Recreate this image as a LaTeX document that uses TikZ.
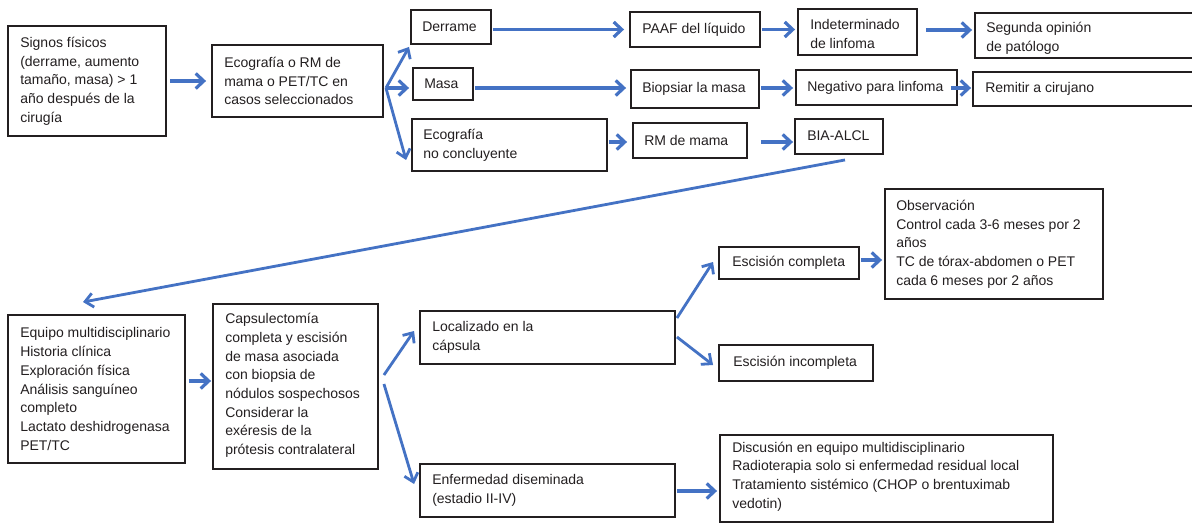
\documentclass[tikz,border=0pt]{standalone}
\usepackage{fontspec}
\setmainfont{Liberation Sans}
\usetikzlibrary{arrows.meta}
\definecolor{arrblue}{RGB}{68,114,196}
\definecolor{txtc}{RGB}{35,31,32}
\begin{document}
\begin{tikzpicture}[x=1pt,y=-1pt,
  box/.style={draw=txtc, line width=1.9pt, inner sep=0pt},
  txt/.style={anchor=west, align=left, inner sep=0pt, font=\fontsize{14}{18.7}\selectfont, text=txtc},
  arr/.style={draw=arrblue, line width=3.2pt, -{Straight Barb[length=8pt,width=15pt]}},
  darr/.style={draw=arrblue, line width=2.8pt, -{Straight Barb[length=8pt,width=14pt]}}]
\useasboundingbox (0,0) rectangle (1192,524);
\clip (0,0) rectangle (1192,524);
\fill[white] (0,0) rectangle (1192,524);

% boxes
\node[box, minimum width=158pt, minimum height=110pt] (b1) at (87,81) {};
\node[box, minimum width=171pt, minimum height=72pt] (b2) at (297.5,81) {};
\node[box, minimum width=80pt, minimum height=34pt] (der) at (451,27) {};
\node[box, minimum width=60pt, minimum height=32pt] (masa) at (443,84) {};
\node[box, minimum width=195pt, minimum height=52pt] (ecog) at (509.5,145) {};
\node[box, minimum width=130pt, minimum height=35pt] (paaf) at (695,29.5) {};
\node[box, minimum width=119pt, minimum height=46pt] (indet) at (857.5,32) {};
\node[box, minimum width=222pt, minimum height=45pt] (seg) at (1086,35.5) {};
\node[box, minimum width=128pt, minimum height=38pt] (biop) at (695,89) {};
\node[box, minimum width=161pt, minimum height=35pt] (neg) at (876.5,87.5) {};
\node[box, minimum width=224pt, minimum height=34pt] (rem) at (1085,89) {};
\node[box, minimum width=114pt, minimum height=35pt] (rm) at (690,140.5) {};
\node[box, minimum width=88pt, minimum height=35pt] (bia) at (839,136.5) {};
\node[box, minimum width=177pt, minimum height=148pt] (equipo) at (96.5,389) {};
\node[box, minimum width=165pt, minimum height=165pt] (capsul) at (295.5,386.5) {};
\node[box, minimum width=255pt, minimum height=53pt] (loc) at (547.5,337.5) {};
\node[box, minimum width=255pt, minimum height=53pt] (enf) at (547.5,490.5) {};
\node[box, minimum width=140pt, minimum height=32pt] (ec) at (789,263) {};
\node[box, minimum width=154pt, minimum height=36pt] (ei) at (796,363) {};
\node[box, minimum width=218pt, minimum height=110pt] (obs) at (994,244) {};
\node[box, minimum width=333pt, minimum height=87pt] (disc) at (886.5,478.5) {};

% texts
\node[txt] (b1t) at ([xshift=13pt]b1.west) {Signos físicos\\(derrame, aumento\\tamaño, masa) > 1\\año después de la\\cirugía};
\node[txt] (b2t) at ([xshift=13pt]b2.west) {Ecografía o RM de\\mama o PET/TC en\\casos seleccionados};
\node[txt] (dert) at ([xshift=12pt]der.west) {Derrame};
\node[txt] (masat) at ([xshift=12pt]masa.west) {Masa};
\node[txt] (ecogt) at ([xshift=12pt]ecog.west) {Ecografía\\no concluyente};
\node[txt] (paaft) at ([xshift=13pt]paaf.west) {PAAF del líquido};
\node[txt] (indett) at ([xshift=13pt,yshift=-2pt]indet.west) {Indeterminado\\de linfoma};
\node[txt] (segt) at ([xshift=12pt,yshift=-3pt]seg.west) {Segunda opinión\\de patólogo};
\node[txt] (biopt) at ([xshift=12pt]biop.west) {Biopsiar la masa};
\node[txt] (negt) at ([xshift=12pt]neg.west) {Negativo para linfoma};
\node[txt] (remt) at ([xshift=13pt]rem.west) {Remitir a cirujano};
\node[txt] (rmt) at ([xshift=12pt]rm.west) {RM de mama};
\node[txt] (biat) at ([xshift=13pt,yshift=1pt]bia.west) {BIA-ALCL};
\node[txt] (equipot) at ([xshift=13pt]equipo.west) {Equipo multidisciplinario\\Historia clínica\\Exploración física\\Análisis sanguíneo\\completo\\Lactato deshidrogenasa\\PET/TC};
\node[txt] (capsult) at ([xshift=13pt,yshift=1pt]capsul.west) {Capsulectomía\\completa y escisión\\de masa asociada\\con biopsia de\\nódulos sospechosos\\Considerar la\\exéresis de la\\prótesis contralateral};
\node[txt] (loct) at ([xshift=13pt]loc.west) {Localizado en la\\cápsula};
\node[txt] (enft) at ([xshift=13pt]enf.west) {Enfermedad diseminada\\(estadio II-IV)};
\node[txt] (ect) at ([xshift=14pt]ec.west) {Escisión completa};
\node[txt] (eit) at ([xshift=15pt]ei.west) {Escisión incompleta};
\node[txt] (obst) at ([xshift=12pt]obs.west) {Observación\\Control cada 3-6 meses por 2\\años\\TC de tórax-abdomen o PET\\cada 6 meses por 2 años};
\node[txt] (disct) at ([xshift=13pt,yshift=2pt]disc.west) {Discusión en equipo multidisciplinario\\Radioterapia solo si enfermedad residual local\\Tratamiento sistémico (CHOP o brentuximab\\vedotin)};

% connectors
\draw[arr] ([shift={(3,0)}]b1.east) -- ([shift={(-5,0)}]b2.west);
\draw[darr] ([shift={(2,7)}]b2.east) -- ([shift={(-1,2)}]der.south west);
\draw[arr] ([shift={(2,7)}]b2.east) -- ([shift={(-3,4)}]masa.west);
\draw[darr] ([shift={(2,7)}]b2.east) -- ([shift={(-5,15)}]ecog.west);
\draw[arr] ([shift={(1,2.5)}]der.east) -- ([shift={(-5,0)}]paaf.west);
\draw[arr] ([shift={(1,0)}]paaf.east) -- ([shift={(-2,-2.5)}]indet.west);
\draw[arr] ([shift={(8,-2)}]indet.east) -- ([shift={(-2,-5.5)}]seg.west);
\draw[arr] ([shift={(1,4)}]masa.east) -- ([shift={(-4,-1)}]biop.west);
\draw[arr] ([shift={(1,-1)}]biop.east) -- ([shift={(-2,0.5)}]neg.west);
\draw[arr] ([shift={(-7,0.5)}]neg.east) -- ([shift={(-1,-1)}]rem.west);
\draw[arr] ([shift={(1,-3)}]ecog.east) -- ([shift={(-5,1.5)}]rm.west);
\draw[arr] ([shift={(13,1.5)}]rm.east) -- ([shift={(-1,5.5)}]bia.west);
\draw[darr] ([shift={(6,5)}]bia.south) -- ([shift={(-13.5,-12)}]equipo.north);
\draw[arr] ([shift={(3,-8)}]equipo.east) -- ([shift={(-1,-5.5)}]capsul.west);
\draw[darr] ([shift={(5,-11.5)}]capsul.east) -- ([shift={(-5,-6.5)}]loc.west);
\draw[darr] ([shift={(5,-2.5)}]capsul.east) -- ([shift={(-5,-6.5)}]enf.west);
\draw[darr] ([shift={(1,-19.5)}]loc.east) -- ([shift={(-5,-1)}]ec.west);
\draw[darr] ([shift={(1,-0.5)}]loc.east) -- ([shift={(-5,2)}]ei.west);
\draw[arr] ([shift={(1,-3)}]ec.east) -- ([shift={(-2,16)}]obs.west);
\draw[arr] ([shift={(1,0.5)}]enf.east) -- ([shift={(-2,12.5)}]disc.west);
\end{tikzpicture}
\end{document}
